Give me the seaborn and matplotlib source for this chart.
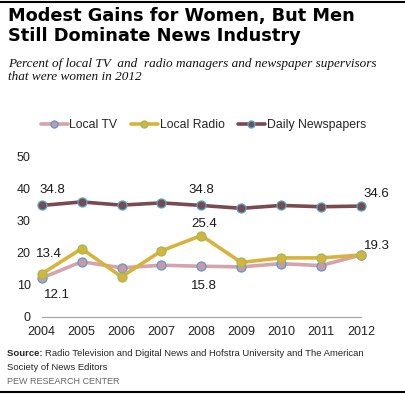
import matplotlib
matplotlib.use("Agg")
import matplotlib.pyplot as plt
from matplotlib.lines import Line2D
import pandas as pd
import seaborn as sns

years = [2004, 2005, 2006, 2007, 2008, 2009, 2010, 2011, 2012]
local_tv = [12.1, 17.2, 15.3, 16.1, 15.8, 15.6, 16.6, 16.0, 19.3]
local_radio = [13.4, 21.3, 12.5, 20.6, 25.4, 17.0, 18.4, 18.4, 19.3]
daily_newspapers = [34.8, 35.9, 34.9, 35.6, 34.8, 33.9, 34.8, 34.4, 34.6]

series_names = ["Local TV", "Local Radio", "Daily Newspapers"]
line_colors = ["#d4a3ab", "#d8b33c", "#7b4a51"]
face_colors = ["#c99aa2", "#d8b33c", "#7b4a51"]
edge_colors = ["#5b9bd5", "#9bbb59", "#4bacc6"]

df = pd.DataFrame({"year": years, "Local TV": local_tv,
                   "Local Radio": local_radio, "Daily Newspapers": daily_newspapers})
long = df.melt(id_vars="year", var_name="series", value_name="pct")

sns.set_style("white")
fig = plt.figure(figsize=(4.05, 3.94), dpi=100)
ax = fig.add_axes([0.103, 0.196, 0.788, 0.406])

for name, lc, fc, ec in zip(series_names, line_colors, face_colors, edge_colors):
    sns.lineplot(data=long[long["series"] == name], x="year", y="pct", ax=ax,
                 color=lc, linewidth=2.6, marker="o", markersize=6.5,
                 markerfacecolor=fc, markeredgecolor=ec, markeredgewidth=0.9,
                 clip_on=False, legend=False)

ax.set_xlim(2004, 2012)
ax.set_ylim(0, 50)
ax.set_xticks(years)
ax.set_yticks([0, 10, 20, 30, 40, 50])
ax.set_xlabel("")
ax.set_ylabel("")
for s in ["top", "right", "left"]:
    ax.spines[s].set_visible(False)
ax.spines["bottom"].set_color("#a6a6a6")
ax.spines["bottom"].set_linewidth(0.9)
ax.tick_params(axis="x", length=3, color="#a6a6a6", pad=4, labelsize=9,
               labelcolor="#222222", direction="out")
ax.tick_params(axis="y", length=0, pad=8, labelsize=9, labelcolor="#222222")
for lab in ax.get_xticklabels() + ax.get_yticklabels():
    lab.set_family("Liberation Sans")

# data labels
lab_kw = dict(textcoords="offset pixels", ha="center", va="center",
              fontsize=9.5, family="Liberation Sans", color="#1a1a1a")
ax.annotate(f"{daily_newspapers[0]}", (years[0], daily_newspapers[0]), xytext=(11, 15), **lab_kw)
ax.annotate(f"{daily_newspapers[4]}", (years[4], daily_newspapers[4]), xytext=(0, 15), **lab_kw)
ax.annotate(f"{daily_newspapers[8]}", (years[8], daily_newspapers[8]), xytext=(15, 12), **lab_kw)
ax.annotate(f"{local_radio[0]}", (years[0], local_radio[0]), xytext=(7, 20), **lab_kw)
ax.annotate(f"{local_tv[0]}", (years[0], local_tv[0]), xytext=(15, -17), **lab_kw)
ax.annotate(f"{local_radio[4]}", (years[4], local_radio[4]), xytext=(3, 12), **lab_kw)
ax.annotate(f"{local_tv[4]}", (years[4], local_tv[4]), xytext=(3, -20), **lab_kw)
ax.annotate(f"{local_tv[8]}", (years[8], local_tv[8]), xytext=(16, 9), **lab_kw)

handles = [Line2D([], [], color=lc, lw=2.6, marker="o", markersize=5,
                  markerfacecolor=fc, markeredgecolor=ec)
           for lc, fc, ec in zip(line_colors, face_colors, edge_colors)]
fig.legend(handles, series_names, loc="center", bbox_to_anchor=(0.502, 1 - 125 / 394),
           ncol=3, frameon=False, handlelength=2.2, handletextpad=0.15,
           columnspacing=1.1, prop={"family": "Liberation Sans", "size": 8.8})

# header and footer
fig.text(0.02, 1 - 7 / 394, "Modest Gains for Women, But Men\nStill Dominate News Industry",
         ha="left", va="top", fontsize=12.8, fontweight="bold", family="DejaVu Sans",
         linespacing=1.15, color="black")
fig.text(0.02, 1 - 58 / 394,
         "Percent of local TV  and  radio managers and newspaper supervisors\nthat were women in 2012",
         ha="left", va="top", fontsize=9.5, style="italic", family="Liberation Serif",
         linespacing=1.15, color="#111111")
src = fig.text(0.017, 1 - 354 / 394, "Source: ", ha="left", va="center", fontsize=6.8,
               fontweight="bold", family="Liberation Sans")
fig.canvas.draw()
src_w = src.get_window_extent().width / fig.bbox.width
fig.text(0.017 + src_w, 1 - 354 / 394,
         "Radio Television and Digital News and Hofstra University and The American",
         ha="left", va="center", fontsize=6.8, family="Liberation Sans")
fig.text(0.017, 1 - 367 / 394, "Society of News Editors", ha="left", va="center",
         fontsize=6.8, family="Liberation Sans")
fig.text(0.017, 1 - 382 / 394, "PEW RESEARCH CENTER", ha="left", va="center",
         fontsize=6.5, family="Liberation Sans", color="#666666")

fig.add_artist(Line2D([0, 1], [1 - 2 / 394, 1 - 2 / 394], color="black", lw=1.5,
                      transform=fig.transFigure))
fig.add_artist(Line2D([0, 1], [1 - 392 / 394, 1 - 392 / 394], color="black", lw=1.5,
                      transform=fig.transFigure))

fig.savefig("out.png", dpi=100)
plt.close(fig)
